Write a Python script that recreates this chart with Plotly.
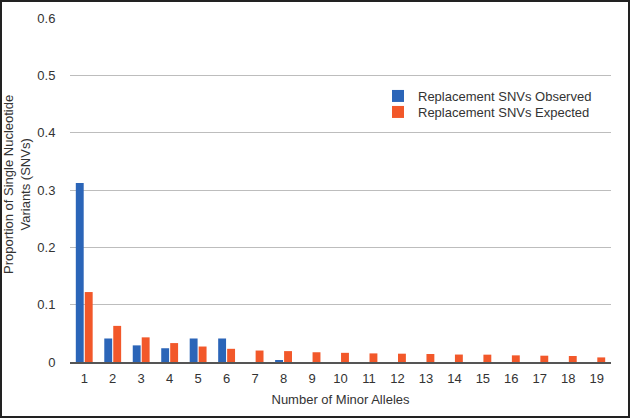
import plotly.graph_objects as go

categories = [str(i) for i in range(1, 20)]
observed = [0.312, 0.041, 0.029, 0.024, 0.041, 0.041, 0.0, 0.003, 0, 0, 0, 0, 0, 0, 0, 0, 0, 0, 0]
expected = [0.122, 0.063, 0.043, 0.033, 0.027, 0.023, 0.020, 0.019, 0.017, 0.016, 0.015, 0.0145,
            0.014, 0.013, 0.0128, 0.0116, 0.011, 0.0105, 0.008]
y_ticks = [0, 0.1, 0.2, 0.3, 0.4, 0.5, 0.6]
y_tick_text = ["0", "0.1", "0.2", "0.3", "0.4", "0.5", "0.6"]

FONT = "Liberation Sans, Arial, sans-serif"

fig = go.Figure()
fig.add_trace(go.Bar(x=categories, y=observed, name="Replacement SNVs Observed", legend="legend",
                     marker=dict(color="#2B65B8", line=dict(width=0))))
fig.add_trace(go.Bar(x=categories, y=expected, name="Replacement SNVs Expected", legend="legend2",
                     marker=dict(color="#F2582A", line=dict(width=0))))

L, R, T, B = 70, 19, 18, 56
W, H = 630, 418
pw, ph = W - L - R, H - T - B


def px_x(x):
    return (x - L) / pw


def px_y(y):
    return (H - B - y) / ph


leg_common = dict(xanchor="left", yanchor="top", bgcolor="rgba(0,0,0,0)", borderwidth=0,
                  font=dict(size=13, color="#333333"), itemwidth=30)

fig.update_layout(
    template="none",
    width=W, height=H,
    margin=dict(l=L, r=R, t=T, b=B, pad=0, autoexpand=False),
    paper_bgcolor="white", plot_bgcolor="white",
    font=dict(family=FONT, size=13, color="#333333"),
    barmode="group", bargap=0.37, bargroupgap=0.12,
    showlegend=True,
    legend=dict(x=px_x(378), y=px_y(81), **leg_common),
    legend2=dict(x=px_x(378), y=px_y(97), **leg_common),
    xaxis=dict(type="category", showgrid=False, showline=True, linecolor="#555555", linewidth=1.5,
               ticks="outside", ticklen=4, tickcolor="rgba(255,255,255,0)", tickfont=dict(size=13),
               automargin=False, zeroline=False,
               title=dict(text="Number of Minor Alleles", font=dict(size=13), standoff=10)),
    yaxis=dict(range=[0, 0.6], tickmode="array", tickvals=y_ticks, ticktext=y_tick_text, automargin=False,
               showgrid=True, gridcolor="#BDBDBD", gridwidth=1, zeroline=False, showline=False,
               ticks="outside", ticklen=11, tickcolor="rgba(255,255,255,0)", tickfont=dict(size=13)),
    annotations=[dict(text="Proportion of Single Nucleotide<br>Variants (SNVs)", textangle=-90,
                      xref="paper", yref="paper", x=px_x(17), y=px_y(185),
                      xanchor="center", yanchor="middle", showarrow=False,
                      font=dict(size=13, color="#333333"))],
    shapes=[dict(type="rect", xref="paper", yref="paper",
                 x0=px_x(1), x1=px_x(629), y0=px_y(417), y1=px_y(1),
                 line=dict(color="#222222", width=2), fillcolor="rgba(0,0,0,0)")],
)

fig.write_html("out.html", config={"displayModeBar": False},
               post_script="document.body.style.margin='0';document.body.style.overflow='hidden';")
